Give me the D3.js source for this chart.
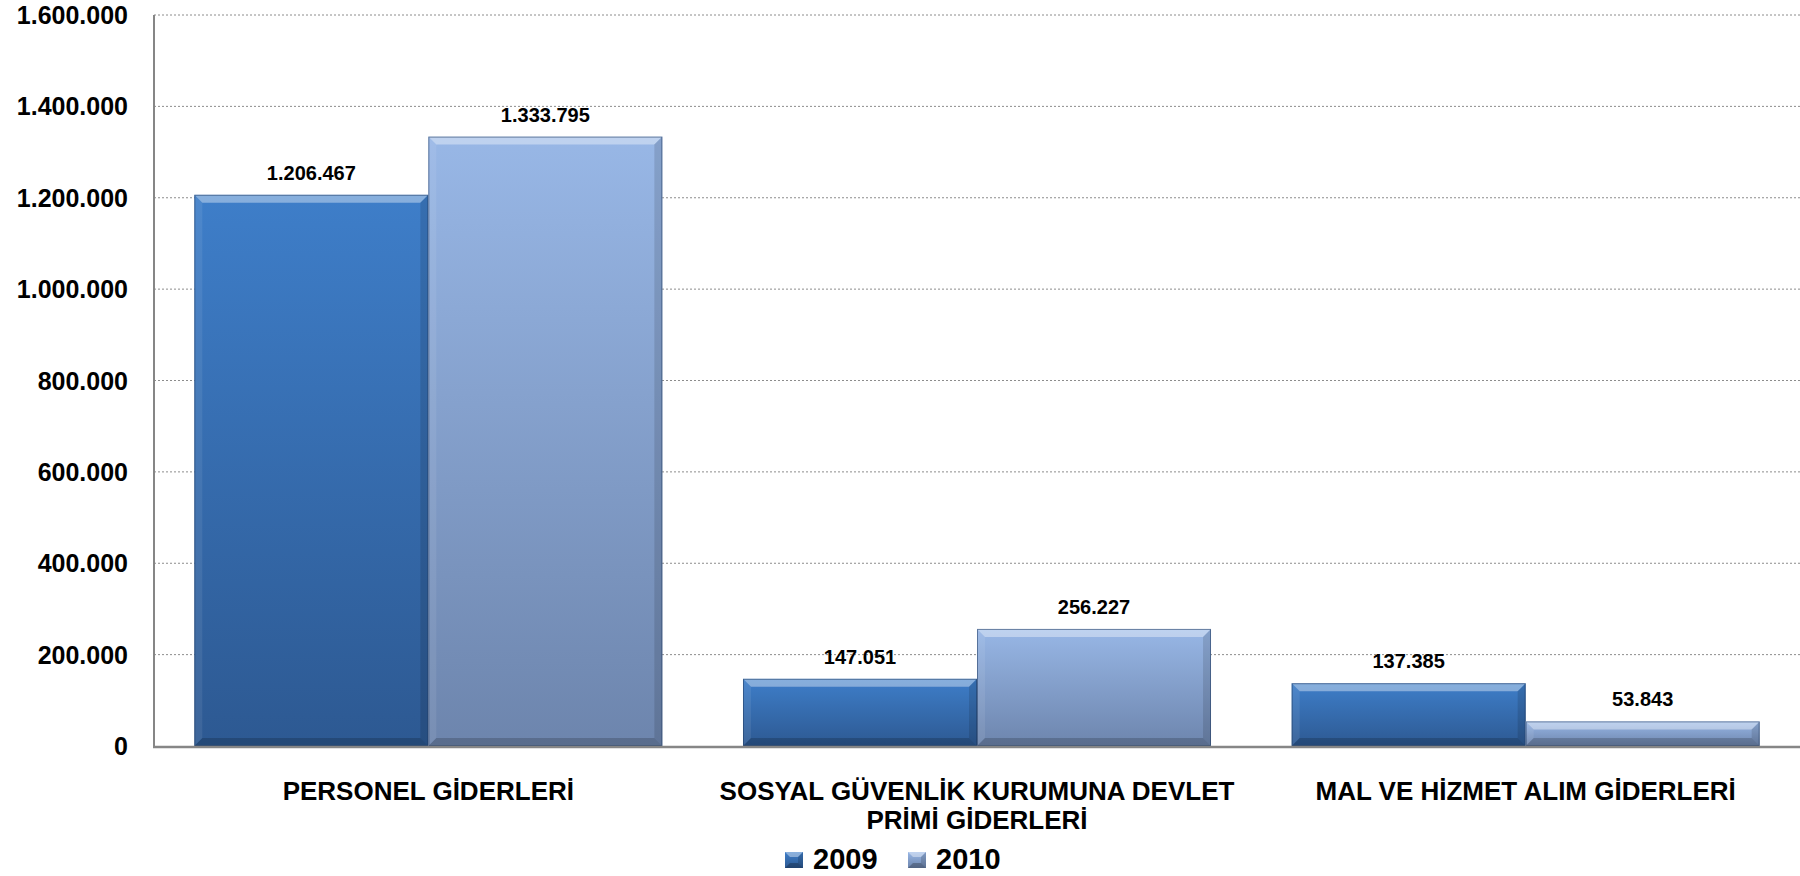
<!DOCTYPE html>
<html>
<head>
<meta charset="utf-8">
<script src="https://cdn.jsdelivr.net/npm/d3@7"></script>
<style>
  body { margin: 0; background: #fff; }
  svg { display: block; font-family: "Liberation Sans", Arial, sans-serif; font-weight: bold; }
</style>
</head>
<body>
<svg id="chart" width="1800" height="876"></svg>
<script>
// veriler
const kategoriler = [
  ["PERSONEL GİDERLERİ"],
  ["SOSYAL GÜVENLİK KURUMUNA DEVLET", "PRİMİ GİDERLERİ"],
  ["MAL VE HİZMET ALIM GİDERLERİ"]
];
const seriler = ["2009", "2010"];
const degerler2009 = [1206467, 147051, 137385];
const degerler2010 = [1333795, 256227, 53843];
const yTicks = [0, 200000, 400000, 600000, 800000, 1000000, 1200000, 1400000, 1600000];

const renkler = {
  "2009": ["#3e7ec9", "#2d5992"],
  "2010": ["#98b7e6", "#6d85ad"]
};

const fmt = v => d3.format(",")(v).replace(/,/g, ".");

const svg = d3.select("#chart");
const sol = 154, sag = 1800, ust = 15, alt = 746;

const x0 = d3.scaleBand()
  .domain(d3.range(kategoriler.length))
  .range([sol, sag])
  .paddingInner(0.147)
  .paddingOuter(0.0735);

const x1 = d3.scaleBand()
  .domain(seriler)
  .range([0, x0.bandwidth()])
  .padding(0);

const y = d3.scaleLinear().domain([0, 1600000]).range([alt, ust]);

// gradyanlar
const defs = svg.append("defs");
seriler.forEach(s => {
  const g = defs.append("linearGradient")
    .attr("id", "grad" + s)
    .attr("x1", 0).attr("y1", 0).attr("x2", 0).attr("y2", 1);
  g.append("stop").attr("offset", "0%").attr("stop-color", renkler[s][0]);
  g.append("stop").attr("offset", "100%").attr("stop-color", renkler[s][1]);
});

// izgara çizgileri
svg.append("g")
  .selectAll("line")
  .data(yTicks.filter(d => d > 0))
  .enter().append("line")
  .attr("x1", sol).attr("x2", sag)
  .attr("y1", d => y(d)).attr("y2", d => y(d))
  .style("stroke", "#8c8c8c")
  .style("stroke-width", 1)
  .style("stroke-dasharray", "2,2");

// y ekseni etiketleri
svg.append("g")
  .selectAll("text")
  .data(yTicks)
  .enter().append("text")
  .attr("x", sol - 26)
  .attr("y", d => y(d))
  .attr("dy", "0.36em")
  .attr("text-anchor", "end")
  .style("font-size", "25px")
  .style("fill", "#000")
  .text(d => fmt(d));

// bevel efektli çubuk
function bevelBar(g, x, yy, w, h, s) {
  const b = Math.min(8, h / 2, w / 2);
  g.append("rect")
    .attr("x", x).attr("y", yy).attr("width", w).attr("height", h)
    .style("fill", `url(#grad${s})`);
  g.append("polygon")
    .attr("points", `${x},${yy} ${x + w},${yy} ${x + w - b},${yy + b} ${x + b},${yy + b}`)
    .style("fill", "#fff").style("opacity", 0.38);
  g.append("polygon")
    .attr("points", `${x},${yy} ${x + b},${yy + b} ${x + b},${yy + h - b} ${x},${yy + h}`)
    .style("fill", "#fff").style("opacity", 0.08);
  g.append("polygon")
    .attr("points", `${x + w},${yy} ${x + w},${yy + h} ${x + w - b},${yy + h - b} ${x + w - b},${yy + b}`)
    .style("fill", "#000").style("opacity", 0.12);
  g.append("polygon")
    .attr("points", `${x},${yy + h} ${x + w},${yy + h} ${x + w - b},${yy + h - b} ${x + b},${yy + h - b}`)
    .style("fill", "#000").style("opacity", 0.18);
  g.append("rect")
    .attr("x", x + 0.5).attr("y", yy + 0.5).attr("width", w - 1).attr("height", h - 1)
    .style("fill", "none").style("stroke", "#1f3b63").style("stroke-opacity", 0.55);
}

const veri = [];
kategoriler.forEach((k, i) => {
  veri.push({ i, s: "2009", v: degerler2009[i] });
  veri.push({ i, s: "2010", v: degerler2010[i] });
});

const barG = svg.append("g");
veri.forEach(d => {
  const bx = x0(d.i) + x1(d.s);
  const by = y(d.v);
  bevelBar(barG, bx, by, x1.bandwidth(), alt - by, d.s);
});

// değer etiketleri
svg.append("g")
  .selectAll("text")
  .data(veri)
  .enter().append("text")
  .attr("x", d => x0(d.i) + x1(d.s) + x1.bandwidth() / 2)
  .attr("y", d => y(d.v) - 15)
  .attr("text-anchor", "middle")
  .style("font-size", "20px")
  .style("fill", "#000")
  .text(d => fmt(d.v));

// eksen çizgileri
svg.append("line")
  .attr("x1", sol).attr("x2", sol).attr("y1", ust).attr("y2", alt)
  .style("stroke", "#868686").style("stroke-width", 2);
svg.append("line")
  .attr("x1", sol - 1).attr("x2", sag).attr("y1", alt + 1).attr("y2", alt + 1)
  .style("stroke", "#868686").style("stroke-width", 2.5);

// kategori etiketleri
const katG = svg.append("g");
kategoriler.forEach((satirlar, i) => {
  const t = katG.append("text")
    .attr("x", x0(i) + x0.bandwidth() / 2)
    .attr("y", 800)
    .attr("text-anchor", "middle")
    .style("font-size", "26px")
    .style("fill", "#000");
  satirlar.forEach((s, j) => {
    t.append("tspan")
      .attr("x", x0(i) + x0.bandwidth() / 2)
      .attr("y", 800 + j * 29)
      .text(s);
  });
});

// lejant
const lejant = svg.append("g");
const lejantX = [785, 908];
seriler.forEach((s, i) => {
  const lx = lejantX[i], ly = 852, w = 18, h = 16, b = 5;
  lejant.append("rect")
    .attr("x", lx).attr("y", ly).attr("width", w).attr("height", h)
    .style("fill", `url(#grad${s})`);
  lejant.append("polygon")
    .attr("points", `${lx},${ly} ${lx + w},${ly} ${lx + w - b},${ly + b} ${lx + b},${ly + b}`)
    .style("fill", "#fff").style("opacity", 0.4);
  lejant.append("polygon")
    .attr("points", `${lx},${ly + h} ${lx + w},${ly + h} ${lx + w - b},${ly + h - b} ${lx + b},${ly + h - b}`)
    .style("fill", "#000").style("opacity", 0.25);
  lejant.append("polygon")
    .attr("points", `${lx + w},${ly} ${lx + w},${ly + h} ${lx + w - b},${ly + h - b} ${lx + w - b},${ly + b}`)
    .style("fill", "#000").style("opacity", 0.15);
  lejant.append("text")
    .attr("x", lx + 28)
    .attr("y", 869)
    .style("font-size", "29px")
    .style("fill", "#000")
    .text(s);
});
</script>
</body>
</html>
